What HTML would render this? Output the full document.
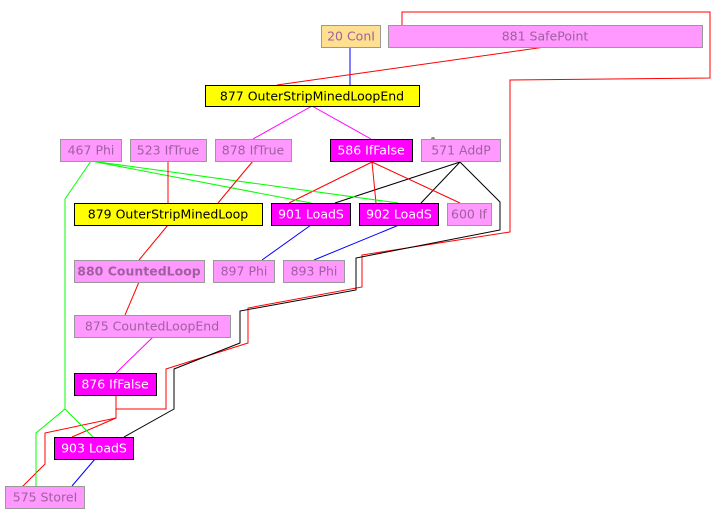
<!DOCTYPE html>
<html><head><meta charset="utf-8"><style>
html,body{margin:0;padding:0;background:#fff;width:723px;height:517px;overflow:hidden}
text{font-family:"DejaVu Sans","Liberation Sans",sans-serif;font-size:12.5px;text-anchor:middle;dominant-baseline:central}
</style></head><body>
<svg width="723" height="517" xmlns="http://www.w3.org/2000/svg">
<g fill="none" stroke-width="1">
<polyline stroke="#f00" points="402,30 402,12 710,12 710,78 510,80 510,232 362,255 362,287 248,308 248,343 166,369 166,409 116,409 116,395"/>
<polyline stroke="#f00" points="116,395 116,418 45,433 45,464 18,491"/>
<line stroke="#f00" x1="116" y1="418" x2="72" y2="437"/>
<polyline stroke="#000" points="460,162 500,202 500,230 356,258 356,290 240,311 240,343 174,369 174,409 124,437"/>
<line stroke="#000" x1="460" y1="162" x2="335" y2="203"/>
<line stroke="#000" x1="460" y1="162" x2="421" y2="203"/>
<line stroke="#f00" x1="372" y1="162" x2="289" y2="203"/>
<line stroke="#f00" x1="372" y1="162" x2="376" y2="203"/>
<line stroke="#f00" x1="372" y1="162" x2="460" y2="203"/>
<polyline stroke="#0f0" points="91,161 65,199 65,409 36,433 36,486"/>
<line stroke="#0f0" x1="65" y1="409" x2="93" y2="437"/>
<line stroke="#0f0" x1="91" y1="161" x2="311" y2="203"/>
<line stroke="#0f0" x1="91" y1="161" x2="398" y2="203"/>
<line stroke="#f00" x1="168" y1="161" x2="168" y2="203"/>
<line stroke="#f00" x1="253" y1="161" x2="218" y2="203"/>
<line stroke="#f0f" x1="312" y1="106" x2="253" y2="139"/>
<line stroke="#f0f" x1="312" y1="106" x2="371" y2="139"/>
<line stroke="#00f" x1="350" y1="47" x2="350" y2="85"/>
<line stroke="#f00" x1="545" y1="47" x2="277" y2="85"/>
<line stroke="#f00" x1="168" y1="225" x2="139" y2="260"/>
<line stroke="#f00" x1="139" y1="282" x2="125" y2="315"/>
<line stroke="#f0f" x1="153" y1="337" x2="116" y2="373"/>
<line stroke="#00f" x1="311" y1="225" x2="262" y2="260"/>
<line stroke="#00f" x1="399" y1="225" x2="314" y2="260"/>
<line stroke="#00f" x1="95" y1="459" x2="72" y2="486"/>
</g>
<circle cx="433" cy="139" r="2" fill="#888"/>
<g stroke="#999">
<rect x="321.5" y="25.5" width="59" height="22" fill="#ffe090"/>
<rect x="388.5" y="25.5" width="314" height="22" fill="#ff99ff"/>
<rect x="60.5" y="139.5" width="61" height="22" fill="#ff99ff"/>
<rect x="130.5" y="139.5" width="76" height="22" fill="#ff99ff"/>
<rect x="215.5" y="139.5" width="76" height="22" fill="#ff99ff"/>
<rect x="421.5" y="139.5" width="79" height="22" fill="#ff99ff"/>
<rect x="447.5" y="203.5" width="44" height="22" fill="#ff99ff"/>
<rect x="74.5" y="260.5" width="130" height="22" fill="#ff99ff"/>
<rect x="213.5" y="260.5" width="61" height="22" fill="#ff99ff"/>
<rect x="283.5" y="260.5" width="61" height="22" fill="#ff99ff"/>
<rect x="74.5" y="315.5" width="156" height="22" fill="#ff99ff"/>
<rect x="5.5" y="486.5" width="79" height="22" fill="#ff99ff"/>
</g>
<g stroke="#000">
<rect x="205.5" y="85.5" width="214" height="21" fill="#ffff00"/>
<rect x="330.5" y="139.5" width="82" height="22" fill="#ff00ff"/>
<rect x="74.5" y="203.5" width="188" height="22" fill="#ffff00"/>
<rect x="271.5" y="203.5" width="79" height="22" fill="#ff00ff"/>
<rect x="359.5" y="203.5" width="79" height="22" fill="#ff00ff"/>
<rect x="74.5" y="373.5" width="82" height="22" fill="#ff00ff"/>
<rect x="54.5" y="437.5" width="79" height="22" fill="#ff00ff"/>
</g>
<g fill="#a060a0">
<text x="351" y="36">20 ConI</text>
<text x="545" y="36">881 SafePoint</text>
<text x="91" y="150">467 Phi</text>
<text x="168" y="150">523 IfTrue</text>
<text x="253" y="150">878 IfTrue</text>
<text x="461" y="150">571 AddP</text>
<text x="469" y="214">600 If</text>
<text x="139" y="271" font-weight="bold">880 CountedLoop</text>
<text x="244" y="271">897 Phi</text>
<text x="314" y="271">893 Phi</text>
<text x="152" y="326">875 CountedLoopEnd</text>
<text x="45" y="497">575 StoreI</text>
</g>
<g fill="#000">
<text x="312" y="96">877 OuterStripMinedLoopEnd</text>
<text x="168" y="214">879 OuterStripMinedLoop</text>
</g>
<g fill="#fff">
<text x="371" y="150">586 IfFalse</text>
<text x="311" y="214">901 LoadS</text>
<text x="399" y="214">902 LoadS</text>
<text x="115" y="384">876 IfFalse</text>
<text x="94" y="448">903 LoadS</text>
</g>
</svg>
</body></html>
